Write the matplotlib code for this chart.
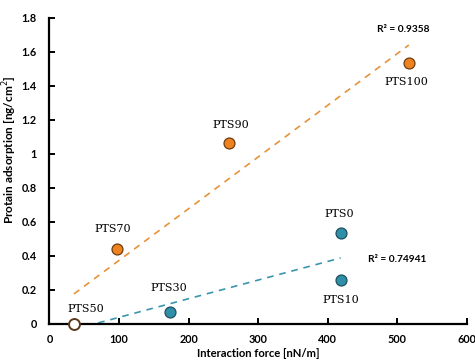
import numpy as np
import matplotlib
matplotlib.use("Agg")
import matplotlib.pyplot as plt

# ---- data ----
orange_names = ["PTS50", "PTS70", "PTS90", "PTS100"]
orange_x = [35.3, 97.0, 258.6, 516.6]
orange_y = [0.0, 0.44, 1.065, 1.535]

blue_names = ["PTS30", "PTS0", "PTS10"]
blue_x = [173.6, 418.6, 418.6]
blue_y = [0.07, 0.535, 0.26]

r2_orange = "0.9358"
r2_blue = "0.74941"

x_ticks = [0, 100, 200, 300, 400, 500, 600]
y_ticks = [0, 0.2, 0.4, 0.6, 0.8, 1.0, 1.2, 1.4, 1.6, 1.8]
y_tick_labels = ["0", "0.2", "0.4", "0.6", "0.8", "1", "1.2", "1.4", "1.6", "1.8"]

# ---- figure ----
fig = plt.figure(figsize=(4.75, 3.6), dpi=100)
ax = fig.add_axes([0.104, 0.1, 0.879, 0.85])

ORANGE = "#F0821E"
BLUE = "#2F8FA8"
EDGE = "#5a3a1e"
label_font = dict(family="DejaVu Serif", fontsize=8.0)
tick_font = "Lato"

# trend lines (fit over orange group incl. PTS50; blue group incl. PTS50)
ox = np.array(orange_x); oy = np.array(orange_y)
bx = np.array([orange_x[0]] + blue_x); by = np.array([orange_y[0]] + blue_y)
po = np.polyfit(ox, oy, 1)
pb = np.polyfit(bx, by, 1)
xs_o = np.array([ox.min(), ox.max()])
xs_b = np.array([bx.min(), bx.max()])
ax.plot(xs_o, np.polyval(po, xs_o), ls=(0, (4, 3.5)), color="#E8923A", lw=1.2, zorder=2)
ax.plot(xs_b, np.polyval(pb, xs_b), ls=(0, (4, 3.5)), color="#3A95AE", lw=1.2, zorder=2)

# markers
ax.scatter(orange_x[1:], orange_y[1:], s=62, c=ORANGE, edgecolors="#6b3d12", linewidths=0.9, zorder=4, clip_on=False)
ax.scatter(blue_x, blue_y, s=62, c=BLUE, edgecolors="#1d4f5e", linewidths=0.9, zorder=4, clip_on=False)
ax.scatter(orange_x[:1], orange_y[:1], s=62, c="white", edgecolors=EDGE, linewidths=1.4, zorder=5, clip_on=False)

# point labels (offsets in points)
offsets = {
    "PTS50": (8.6, 10.8),
    "PTS70": (-3, 14.4),
    "PTS90": (0.7, 13),
    "PTS100": (-2, -14),
    "PTS30": (-0.7, 17),
    "PTS0": (-1.4, 13.7),
    "PTS10": (0, -14.4),
}
for n, x, y in list(zip(orange_names, orange_x, orange_y)) + list(zip(blue_names, blue_x, blue_y)):
    ax.annotate(n, (x, y), xytext=offsets[n], textcoords="offset points",
                ha="center", va="center", annotation_clip=False, **label_font)

# R² labels
ax.text(0.847, 0.961, "R² = " + r2_orange, transform=ax.transAxes, ha="center", va="center",
        fontsize=7.3, fontweight="bold", family=tick_font)
ax.text(0.832, 0.212, "R² = " + r2_blue, transform=ax.transAxes, ha="center", va="center",
        fontsize=7.3, fontweight="bold", family=tick_font)

# axes styling
ax.set_xlim(0, 600)
ax.set_ylim(0, 1.8)
ax.set_xticks(x_ticks)
ax.set_yticks(y_ticks)
ax.set_yticklabels(y_tick_labels)
for s in ["top", "right"]:
    ax.spines[s].set_visible(False)
for s in ["left", "bottom"]:
    ax.spines[s].set_linewidth(1.6)
ax.tick_params(direction="in", length=4, width=1.4, labelsize=7.8)
ax.tick_params(axis="y", pad=9)
ax.tick_params(axis="x", pad=7)
for lab in ax.get_xticklabels() + ax.get_yticklabels():
    lab.set_fontweight("bold")
    lab.set_family(tick_font)
ax.set_xlabel("Interaction force [nN/m]", fontsize=8.1, fontweight="bold", family=tick_font)
ax.set_ylabel("Protain adsorption [ng/cm$^2$]", fontsize=8.5, fontweight="bold", family=tick_font)
ax.xaxis.set_label_coords(0.5, -0.078)
ax.yaxis.set_label_coords(-0.073, 0.569)

fig.savefig("out.png", dpi=100)
